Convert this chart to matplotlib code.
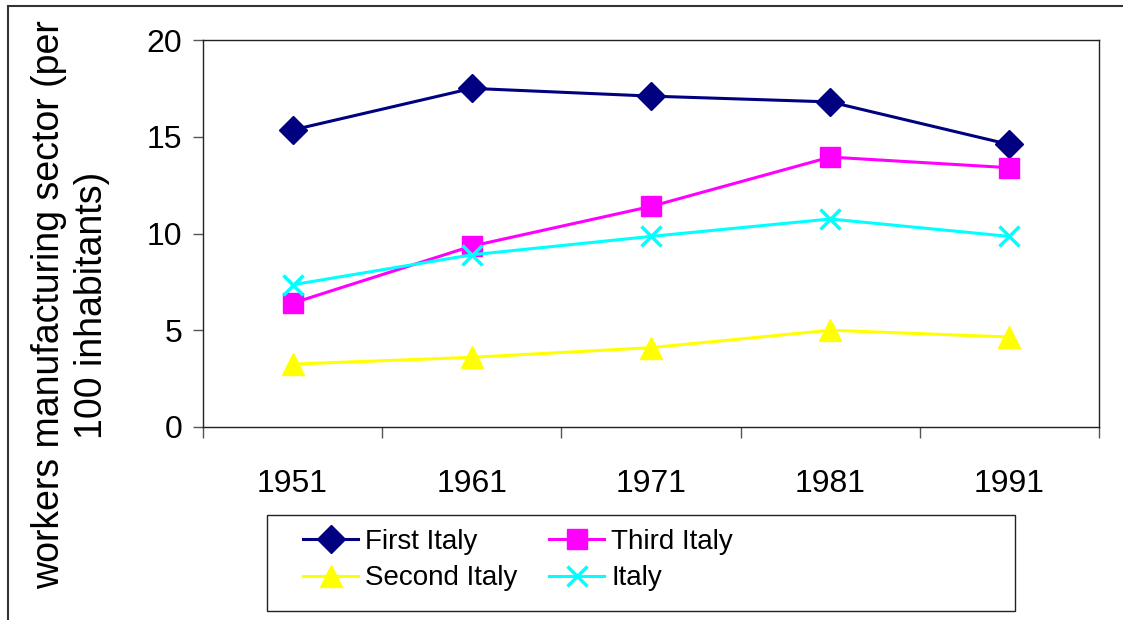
import matplotlib
matplotlib.use('Agg')
import matplotlib.pyplot as plt
from matplotlib.patches import Rectangle

years = ['1951', '1961', '1971', '1981', '1991']
first_italy = [15.35, 17.5, 17.1, 16.8, 14.6]
second_italy = [3.25, 3.6, 4.1, 5.0, 4.65]
third_italy = [6.4, 9.35, 11.4, 13.95, 13.4]
italy = [7.35, 8.9, 9.85, 10.75, 9.85]

plt.rcParams['font.family'] = ['Liberation Sans', 'DejaVu Sans']

W, H = 1123, 620
fig = plt.figure(figsize=(W/100, H/100), dpi=100)
ax = fig.add_axes([203/W, 1-427/H, 896/W, 387/H])

xpos = [i + 0.5 for i in range(len(years))]
l1, = ax.plot(xpos, first_italy, color='#000080', lw=2.2, marker='D', ms=14, label='First Italy')
l3, = ax.plot(xpos, third_italy, color='#ff00ff', lw=2.2, marker='s', ms=15, label='Third Italy')
l2, = ax.plot(xpos, second_italy, color='#ffff00', lw=2.2, marker='^', ms=16, label='Second Italy')
l4, = ax.plot(xpos, italy, color='#00ffff', lw=2.2, marker='x', ms=14, mew=2.5, label='Italy')

ax.set_xlim(0, len(years))
ax.set_ylim(0, 20)
ax.set_yticks([0, 5, 10, 15, 20])
ax.set_xticks(range(len(years) + 1))
ax.set_xticklabels([])
ax.set_xticks(xpos, minor=True)
ax.set_xticklabels(years, minor=True)
ax.tick_params(axis='x', which='major', direction='out', length=8, width=1, color='#555555')
ax.tick_params(axis='x', which='minor', length=0, pad=30, labelsize=23)
ax.tick_params(axis='y', direction='out', length=7, width=1, color='#555555', labelsize=23, pad=8)
for s in ax.spines.values():
    s.set_color('#222222')
    s.set_linewidth(1)

fig.text(71/W, 1-305/H, 'workers manufacturing sector (per\n100 inhabitants)', rotation=90,
         ha='center', va='center', fontsize=27, linespacing=1.25)

# legend box drawn separately, entries placed inside it
fig.patches.append(Rectangle((267/W, 1-611/H), 748/W, 96/H, transform=fig.transFigure,
                             fill=False, edgecolor='#222222', lw=1))
ax.legend([l1, l2, l3, l4], ['First Italy', 'Second Italy', 'Third Italy', 'Italy'],
          ncol=2, loc='upper left', bbox_to_anchor=(303/W, 1-529/H),
          bbox_transform=fig.transFigure, frameon=False, fontsize=20,
          handlelength=1.98, handletextpad=0.25, labelspacing=0.37,
          borderpad=0, borderaxespad=0, columnspacing=1.15)

fig.patches.append(Rectangle((8/W, -0.1), 1.2, 1 - 6/H + 0.1, transform=fig.transFigure,
                             fill=False, edgecolor='#333333', lw=1.5))

fig.savefig('out.png', dpi=100)
